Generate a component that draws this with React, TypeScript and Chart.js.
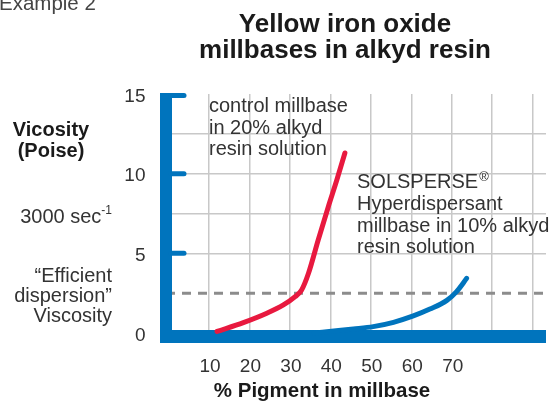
import React, { useEffect, useRef } from 'react';
import { Chart, registerables } from 'chart.js';

Chart.register(...registerables);

// ---- data ----
const controlPigment = [12, 18.5, 24.3, 28.4, 31.3, 32.9, 34.6, 37.0, 39.5, 41.6, 43.6];
const controlViscosity = [0.1, 0.65, 1.24, 1.76, 2.28, 2.7, 3.75, 5.84, 7.93, 9.6, 11.3];
const solspersePigment = [36, 42, 45.7, 50.6, 55.6, 60.5, 64.6, 68.8, 71.2, 73.7];
const solsperseViscosity = [0.0, 0.15, 0.25, 0.4, 0.67, 1.07, 1.5, 2.05, 2.6, 3.43];

const xGridValues = [10, 20, 30, 40, 50, 60, 70, 80, 90];
const xLabelValues = [10, 20, 30, 40, 50, 60, 70];
const yGridValues = [0, 2.5, 5, 7.5, 10, 12.5, 15];
const yLabelValues = [0, 5, 10, 15];
const efficientViscosity = 2.5;
const X_MAX = 93.3;
const Y_MAX = 15;

const headerText = 'Example 2';
const titleLines = ['Yellow iron oxide', 'millbases in alkyd resin'];
const yTitleLines = ['Vicosity', '(Poise)'];
const shearText = '3000 sec';
const shearSup = '-1';
const efficientLines = ['\u201cEfficient', 'dispersion\u201d', 'Viscosity'];
const controlLabel = ['control millbase', 'in 20% alkyd', 'resin solution'];
const solsperseName = 'SOLSPERSE';
const solsperseLabel = ['Hyperdispersant', 'millbase in 10% alkyd', 'resin solution'];
const xTitle = '% Pigment in millbase';

const BLUE = '#0074BD';
const RED = '#E8193F';
const GRID = '#c8c8c8';
const TEXT = '#333333';
const FONT = '"Liberation Sans", Arial, Helvetica, sans-serif';

const decorPlugin = {
  id: 'decor',
  beforeDatasetsDraw(chart: any) {
    const { ctx, chartArea, scales } = chart;
    const x = scales.x;
    const y = scales.y;
    const x0 = x.getPixelForValue(0);
    const y0 = y.getPixelForValue(0);
    const yTop = y.getPixelForValue(Y_MAX);
    ctx.save();
    // dashed "efficient dispersion" line
    const yd = y.getPixelForValue(efficientViscosity);
    ctx.strokeStyle = '#8c8c8c';
    ctx.lineWidth = 3;
    ctx.setLineDash([9, 7]);
    ctx.beginPath();
    ctx.moveTo(x0 - 2.5, yd);
    ctx.lineTo(chartArea.right - 3, yd);
    ctx.stroke();
    ctx.setLineDash([]);
    // thick axes
    ctx.fillStyle = BLUE;
    ctx.fillRect(x0 - 8.5, yTop - 1, 12, y0 + 10 - (yTop - 1));
    ctx.fillRect(x0 - 8.5, y0 - 3, chartArea.right - (x0 - 8.5), 13);
    // tick stubs
    ctx.strokeStyle = BLUE;
    ctx.lineWidth = 5;
    ctx.lineCap = 'round';
    for (const v of yLabelValues) {
      if (v === 0) continue;
      const py = v === Y_MAX ? yTop + 1.5 : y.getPixelForValue(v);
      ctx.beginPath();
      ctx.moveTo(x0 + 2, py);
      ctx.lineTo(x0 + 15.5, py);
      ctx.stroke();
    }
    ctx.restore();
  },
  afterDraw(chart: any) {
    const { ctx } = chart;
    ctx.save();
    ctx.textBaseline = 'alphabetic';
    const put = (s: string, px: number, py: number, font: string, align: CanvasTextAlign = 'left', color = TEXT) => {
      ctx.font = font;
      ctx.textAlign = align;
      ctx.fillStyle = color;
      ctx.fillText(s, px, py);
    };
    const reg = `20px ${FONT}`;
    const sup = `12px ${FONT}`;
    put(headerText, -1, 10, `20.5px ${FONT}`, 'left', '#444');
    titleLines.forEach((l, i) => put(l, 345, 32 + i * 25.5, `bold 26px ${FONT}`, 'center', '#1a1a1a'));
    yTitleLines.forEach((l, i) => put(l, 51, 136 + i * 21, `bold 20px ${FONT}`, 'center', '#1a1a1a'));
    // shear rate with superscript
    ctx.font = reg;
    const w = ctx.measureText(shearText).width;
    ctx.font = sup;
    const w2 = ctx.measureText(shearSup).width;
    const sx = 112 - w - w2;
    put(shearText, sx, 222.5, reg);
    put(shearSup, sx + w, 214, sup);
    efficientLines.forEach((l, i) => put(l, 112, 281.5 + i * 20, reg, 'right'));
    controlLabel.forEach((l, i) => put(l, 209, 112 + i * 21.5, reg));
    put(solsperseName, 357, 188, reg);
    ctx.font = reg;
    const sw = ctx.measureText(solsperseName).width;
    put('\u00ae', 357 + sw + 1, 181, `13px ${FONT}`);
    solsperseLabel.forEach((l, i) => put(l, 357, 210 + i * 21.5, reg));
    put(xTitle, 322, 397, `bold 20.5px ${FONT}`, 'center', '#1a1a1a');
    ctx.restore();
  },
};

export default function App() {
  const ref = useRef<HTMLCanvasElement | null>(null);
  useEffect(() => {
    if (!ref.current) return;
    const lineStyle = {
      borderWidth: 5,
      borderCapStyle: 'round',
      borderJoinStyle: 'round',
      pointRadius: 0,
      cubicInterpolationMode: 'monotone',
      fill: false,
      clip: false,
    };
    const chart = new Chart(ref.current, {
      type: 'line',
      data: {
        datasets: [
          {
            label: 'control',
            data: controlPigment.map((v, i) => ({ x: v, y: controlViscosity[i] })),
            borderColor: RED,
            ...lineStyle,
          },
          {
            label: 'solsperse',
            data: solspersePigment.map((v, i) => ({ x: v, y: solsperseViscosity[i] })),
            borderColor: BLUE,
            ...lineStyle,
          },
        ],
      },
      options: {
        responsive: false,
        animation: false,
        events: [],
        layout: { padding: { left: 0, right: 11, top: 94, bottom: 0 }, autoPadding: false },
        plugins: { legend: { display: false }, tooltip: { enabled: false }, title: { display: false } },
        scales: {
          x: {
            type: 'linear',
            min: 0,
            max: X_MAX,
            afterBuildTicks: (s: any) => { s.ticks = xGridValues.map((v) => ({ value: v })); },
            afterFit: (s: any) => { s.height = 87; },
            grid: { color: GRID, lineWidth: 1.5, drawTicks: false },
            border: { display: false },
            ticks: {
              autoSkip: false,
              maxRotation: 0,
              padding: 22,
              labelOffset: 1,
              color: TEXT,
              font: { family: FONT, size: 19 },
              callback: (v: any) => (xLabelValues.includes(Number(v)) ? String(v) : ''),
            },
          },
          y: {
            type: 'linear',
            min: 0,
            max: Y_MAX,
            afterBuildTicks: (s: any) => { s.ticks = yGridValues.map((v) => ({ value: v })); },
            afterFit: (s: any) => { s.width = 168.5; },
            grid: {
              drawTicks: false,
              lineWidth: 1.5,
              color: (c: any) => {
                const v = c.tick ? c.tick.value : null;
                return v === 0 || v === efficientViscosity || v === Y_MAX ? 'rgba(0,0,0,0)' : GRID;
              },
            },
            border: { display: false },
            ticks: {
              padding: 23,
              labelOffset: 2.5,
              color: TEXT,
              font: { family: FONT, size: 19 },
              callback: (v: any) => (yLabelValues.includes(Number(v)) ? String(v) : ''),
            },
          },
        },
      },
      plugins: [decorPlugin],
    } as any);
    return () => chart.destroy();
  }, []);
  return (
    <div style={{ position: 'fixed', left: 0, top: 0, width: 557, height: 420, background: '#fff' }}>
      <canvas ref={ref} width={557} height={420} style={{ display: 'block' }} />
    </div>
  );
}
